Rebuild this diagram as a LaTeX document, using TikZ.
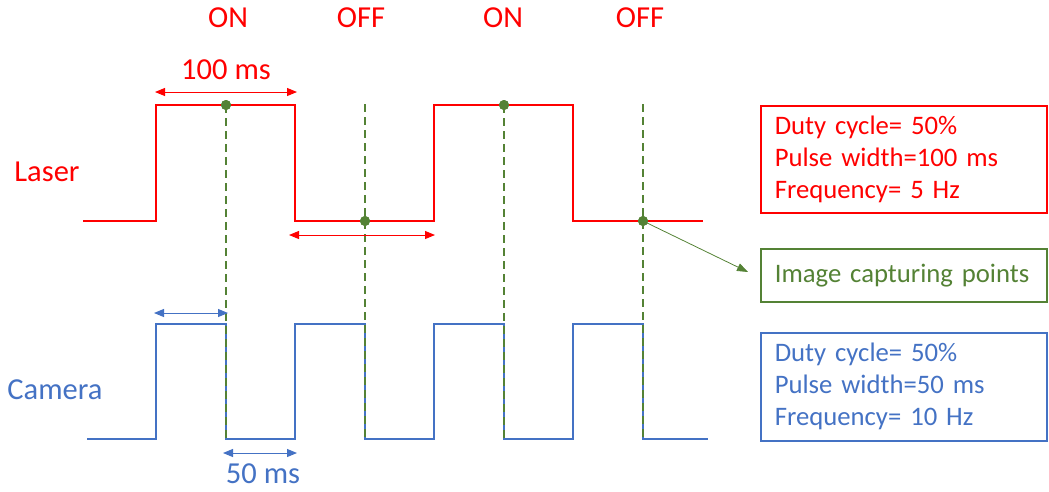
\documentclass[tikz,border=0pt]{standalone}
\usepackage{fontspec}
\setmainfont{Carlito}
\usetikzlibrary{arrows.meta}
\definecolor{lred}{HTML}{FF0000}
\definecolor{cblue}{HTML}{4472C4}
\definecolor{cgreen}{HTML}{548235}
\begin{document}
\begin{tikzpicture}[x=1pt,y=-1pt,
  lbl/.style={font=\fontsize{30.5}{34}\selectfont, inner sep=0pt},
  wave/.style={line width=2.5pt, line join=miter},
  capline/.style={cgreen, line width=2pt, dash pattern=on 8pt off 5pt},
  capdot/.style={circle, fill=cgreen, inner sep=0pt, minimum size=10pt},
  dimarrow/.style={line width=1pt, {Triangle[length=10pt,width=8pt]}-{Triangle[length=10pt,width=8pt]}},
  infobox/.style={draw, line width=1.6pt, anchor=north west, minimum width=286pt, text width=258pt,
     inner xsep=13pt, align=left, font=\fontsize{26.7}{32}\selectfont}]
\useasboundingbox (0,0) rectangle (1049,491);

% waveforms
\draw[wave, lred] (83,221) -- (156,221) -- (156,105) -- (295,105) -- (295,221) -- (434,221)
  -- (434,105) -- (573,105) -- (573,221) -- (703,221);
\draw[wave, cblue] (87,439) -- (156,439) -- (156,324) -- (226,324) -- (226,439) -- (295,439)
  -- (295,324) -- (365,324) -- (365,439) -- (434,439) -- (434,324) -- (504,324) -- (504,439)
  -- (573,439) -- (573,324) -- (643,324) -- (643,439) -- (708,439);

% capture points
\node[capdot] (p1) at (226,105) {};
\node[capdot] (p2) at (365,221) {};
\node[capdot] (p3) at (504,105) {};
\node[capdot] (p4) at (643,221) {};
\coordinate (t2) at (365,104);
\coordinate (t4) at (643,104);
\coordinate (b1) at (226,439);
\coordinate (b2) at (365,439);
\coordinate (b3) at (504,439);
\coordinate (b4) at (643,439);
\draw[capline] (p1.center) -- (b1);
\draw[capline] (t2) -- (b2);
\draw[capline] (p3.center) -- (b3);
\draw[capline] (t4) -- (b4);
\node[capdot] at (p1) {};
\node[capdot] at (p2) {};
\node[capdot] at (p3) {};
\node[capdot] at (p4) {};

% dimension arrows
\coordinate (a1l) at (155,92);  \coordinate (a1r) at (297,92);
\coordinate (a2l) at (289,235); \coordinate (a2r) at (435,235);
\coordinate (a3l) at (154,313); \coordinate (a3r) at (228,313);
\coordinate (a4l) at (223,453); \coordinate (a4r) at (297,453);
\draw[dimarrow, lred] (a1l) -- (a1r);
\draw[dimarrow, lred] (a2l) -- (a2r);
\draw[dimarrow, cblue] (a3l) -- (a3r);
\draw[dimarrow, cblue] (a4l) -- (a4r);

% labels
\node[lbl, text=lred] (on1) at (228,18) {ON};
\node[lbl, text=lred] (off1) at (361,18) {OFF};
\node[lbl, text=lred] (on2) at (503,18) {ON};
\node[lbl, text=lred] (off2) at (640,18) {OFF};
\node[lbl, text=lred] (w100) at (226,70) {100 ms};
\node[lbl, text=cblue] (w50) at (263,474) {50 ms};
\node[lbl, text=lred] (laser) at (47,172) {Laser};
\node[lbl, text=cblue] (camera) at (55,390) {Camera};

% boxes
\node[infobox, draw=lred, text=lred, minimum height=107pt] (lbox) at (760,105)
  {Duty cycle= 50\%\\Pulse width=100 ms\\Frequency= 5 Hz};
\node[infobox, draw=cgreen, text=cgreen, minimum height=53pt] (gbox) at (760,248)
  {Image capturing points};
\node[infobox, draw=cblue, text=cblue, minimum height=108pt] (bbox) at (760,332)
  {Duty cycle= 50\%\\Pulse width=50 ms\\Frequency= 10 Hz};

\coordinate (gtip) at (748,272);
\draw[cgreen, line width=0.8pt, -{Triangle[length=11pt,width=8pt]}] (p4.center) -- (gtip);
\end{tikzpicture}
\end{document}
